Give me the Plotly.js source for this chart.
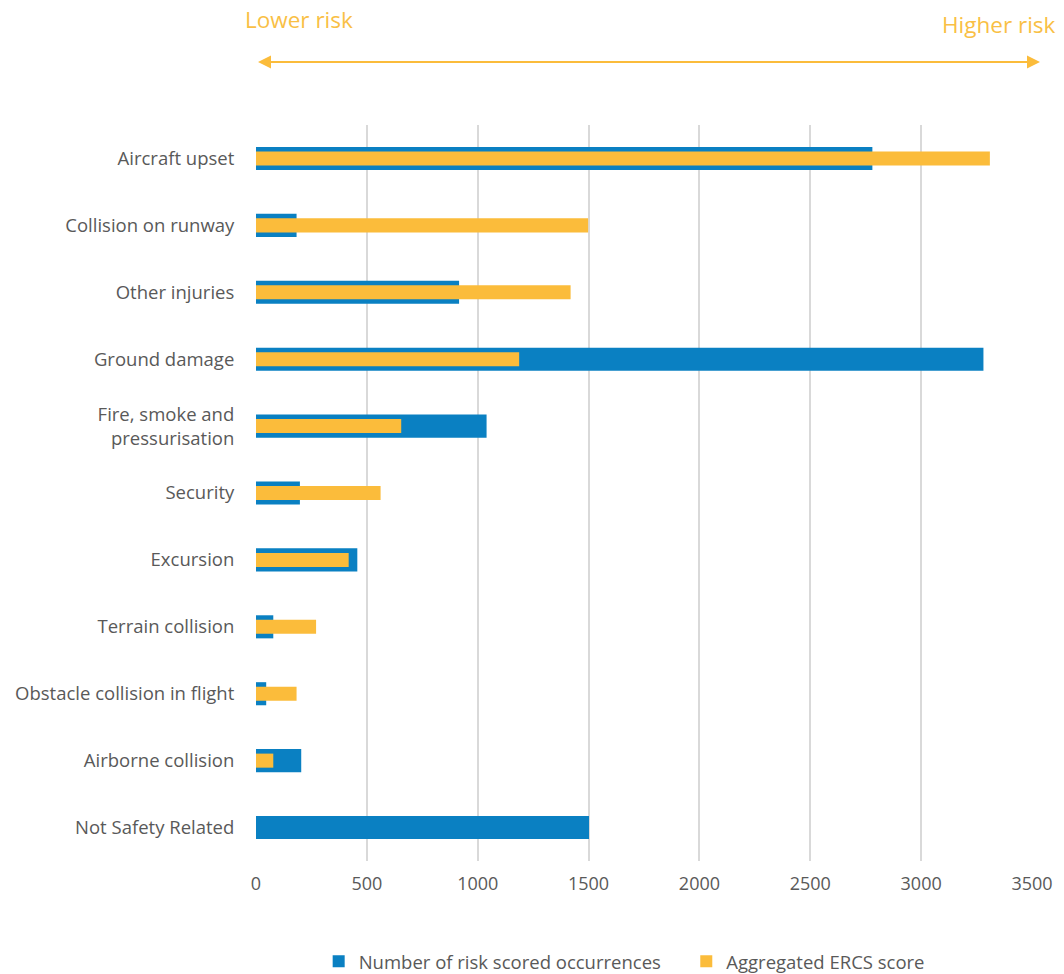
<!DOCTYPE html>
<html>
<head>
<meta charset="utf-8">
<script src="https://cdn.plot.ly/plotly-3.0.1.min.js"></script>
<style>html,body{margin:0;padding:0;background:#fff;}#chart{width:1064px;height:974px;}</style>
</head>
<body>
<div id="chart"></div>
<script>
const categories = [
  "Aircraft upset",
  "Collision on runway",
  "Other injuries",
  "Ground damage",
  "Fire, smoke and<br>pressurisation",
  "Security",
  "Excursion",
  "Terrain collision",
  "Obstacle collision in flight",
  "Airborne collision",
  "Not Safety Related"
];
const occurrences = [2780, 183, 916, 3281, 1040, 198, 457, 78, 46, 204, 1502];
const ercsScore = [3310, 1498, 1419, 1187, 655, 562, 418, 271, 183, 78, 0];
const seriesNames = ["Number of risk scored occurrences", "Aggregated ERCS score"];
const xTicks = [0, 500, 1000, 1500, 2000, 2500, 3000, 3500];

const BLUE = "#0a80c2";
const ORANGE = "#fbbc3b";
const TXT = "#595959";
const FONT = "Open Sans, Noto Sans, sans-serif";

const data = [
  {type: "bar", orientation: "h", name: seriesNames[0], y: categories, x: occurrences,
   width: 0.345, marker: {color: BLUE, line: {width: 0}}, hoverinfo: "x+y", legend: "legend"},
  {type: "bar", orientation: "h", name: seriesNames[1], y: categories, x: ercsScore,
   width: 0.21, marker: {color: ORANGE, line: {width: 0}}, hoverinfo: "x+y", legend: "legend2"}
];

const legendBase = {orientation: "h", xref: "container", yref: "container",
  xanchor: "left", y: 0.032, yanchor: "top", font: {size: 18.5, color: TXT}};

const layout = {
  width: 1064, height: 974,
  margin: {l: 256, r: 32, t: 125, b: 113, pad: 0, autoexpand: false},
  paper_bgcolor: "#fff", plot_bgcolor: "#fff",
  barmode: "overlay",
  font: {family: FONT, color: TXT, size: 18},
  xaxis: {range: [0, 3500], tickvals: xTicks, ticktext: xTicks.map(String),
    showgrid: true, gridcolor: "#d9d9d9", gridwidth: 2, zeroline: false,
    showline: false, ticks: "outside", ticklen: 6, tickcolor: "rgba(0,0,0,0)",
    tickfont: {size: 18, color: TXT}, fixedrange: true, automargin: false},
  yaxis: {type: "category", autorange: "reversed", showgrid: false, zeroline: false,
    showline: false, ticks: "outside", ticklen: 17, tickcolor: "rgba(0,0,0,0)",
    tickfont: {size: 18.5, color: TXT}, fixedrange: true, automargin: false},
  showlegend: true,
  legend: Object.assign({}, legendBase, {x: 0.2995}),
  legend2: Object.assign({}, legendBase, {x: 0.645}),
  annotations: [
    {xref: "paper", yref: "paper", x: -0.0168, y: 1.1427, xanchor: "left", yanchor: "middle",
     text: "Lower risk", showarrow: false, font: {size: 22.5, color: "#f9bf45"}},
    {xref: "paper", yref: "paper", x: 1.0335, y: 1.1359, xanchor: "right", yanchor: "middle",
     text: "Higher risk", showarrow: false, font: {size: 22.5, color: "#f9bf45"}},
    {xref: "paper", yref: "paper", x: 1.0103, y: 1.0856, ax: -402, ay: 0, text: "", showarrow: true,
     arrowhead: 2, arrowsize: 1.3, arrowwidth: 2, arrowcolor: ORANGE},
    {xref: "paper", yref: "paper", x: 0.0026, y: 1.0856, ax: 402, ay: 0, text: "", showarrow: true,
     arrowhead: 2, arrowsize: 1.3, arrowwidth: 2, arrowcolor: ORANGE}
  ]
};

Plotly.newPlot("chart", data, layout, {displayModeBar: false, staticPlot: true});
</script>
</body>
</html>
